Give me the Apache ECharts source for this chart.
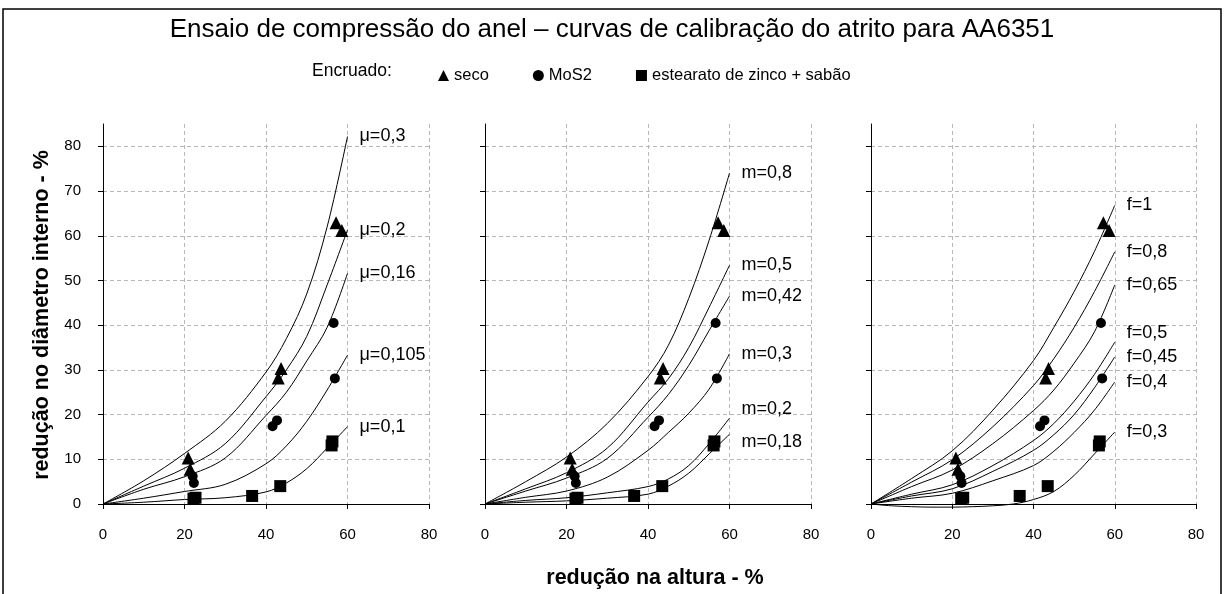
<!DOCTYPE html>
<html>
<head>
<meta charset="utf-8">
<script src="https://cdn.jsdelivr.net/npm/echarts@6/dist/echarts.min.js"></script>
<style>
  html, body { margin: 0; padding: 0; background: #fff; }
  #chart { width: 1224px; height: 594px; }
</style>
</head>
<body>
<div id="chart"></div>
<script>
// Abscissa (redução na altura, %) shared by the calibration curves
const xCurve = [0, 10, 20, 30, 40, 45, 50, 55, 60];

// Coulomb friction coefficient curves
const muNames = ['μ=0,3', 'μ=0,2', 'μ=0,16', 'μ=0,105', 'μ=0,1'];
const mu03  = [0, 5.2, 11.3, 18.5, 29.5, 37.0, 47.0, 62.0, 82.2];
const mu02  = [0, 4.0, 8.0, 13.5, 24.0, 30.0, 37.5, 49.0, 61.3];
const mu016 = [0, 3.3, 6.1, 10.3, 19.8, 25.0, 32.0, 39.5, 51.6];
const mu0105 = [0, 1.3, 2.8, 4.4, 9.0, 13.0, 18.5, 25.5, 33.3];
const mu01  = [0, 0.4, 1.0, 1.4, 2.7, 4.7, 7.9, 12.5, 17.3];

// Shear friction factor curves
const mNames = ['m=0,8', 'm=0,5', 'm=0,42', 'm=0,3', 'm=0,2', 'm=0,18'];
const m08  = [0, 5.0, 10.5, 18.0, 28.5, 35.5, 46.0, 59.0, 74.0];
const m05  = [0, 3.4, 7.0, 12.5, 22.8, 28.0, 35.0, 44.0, 53.4];
const m042 = [0, 2.9, 5.8, 10.2, 19.4, 24.5, 31.0, 38.8, 46.5];
const m03  = [0, 1.5, 2.9, 6.0, 12.0, 16.0, 20.3, 25.7, 33.6];
const m02  = [0, 0.8, 1.4, 2.5, 3.9, 5.6, 8.6, 13.5, 19.2];
const m018 = [0, 0.4, 0.7, 1.3, 2.2, 4.0, 6.9, 11.2, 15.6];

// Friction factor (f) curves
const fNames = ['f=1', 'f=0,8', 'f=0,65', 'f=0,5', 'f=0,45', 'f=0,4', 'f=0,3'];
const f1   = [0, 5.7, 11.9, 21.0, 32.1, 39.5, 47.5, 56.5, 66.8];
const f08  = [0, 4.9, 9.9, 17.3, 26.5, 32.5, 39.5, 47.5, 56.4];
const f065 = [0, 3.9, 7.6, 13.5, 20.9, 25.5, 31.5, 38.5, 49.0];
const f05  = [0, 2.2, 4.3, 8.6, 14.2, 18.0, 23.0, 29.0, 36.2];
const f045 = [0, 1.8, 3.4, 7.3, 12.0, 15.5, 20.0, 26.0, 32.9];
const f04  = [0, 1.3, 2.4, 5.2, 8.6, 11.8, 16.0, 21.0, 27.3];
const f03x = [0, 5, 10, 15, 20, 25, 30, 35, 40, 45, 50, 55, 60];
const f03  = [0, -0.4, -0.6, -0.7, -0.7, -0.6, -0.4, 0, 1.0, 2.8, 6.4, 11.2, 16.1];

// Measured points (redução na altura %, redução no diâmetro interno %)
const secoX = [20.9, 21.4, 43.0, 43.7, 57.2, 58.6];
const secoY = [10.3, 7.8, 28.2, 30.3, 62.9, 61.2];
const mos2X = [22.0, 22.3, 41.6, 42.7, 56.6, 56.9];
const mos2Y = [6.2, 4.7, 17.4, 18.7, 40.5, 28.1];
const estX  = [22.2, 22.7, 36.6, 43.5, 56.1, 56.3];
const estY  = [1.2, 1.4, 1.8, 4.0, 13.1, 14.0];

// Axis ticks
const xTicks = [0, 20, 40, 60, 80];
const yTicks = [0, 10, 20, 30, 40, 50, 60, 70, 80];

const FONT = 'Arial, "Liberation Sans", sans-serif';
const pair = (xs, ys) => xs.map((x, i) => [x, ys[i]]);
const MARK = { color: '#000', opacity: 1 };

const panels = [
  { left: 103, width: 326, names: muNames, curves: [mu03, mu02, mu016, mu0105, mu01], shifts: [0, 0, 0, 0, 0] },
  { left: 485, width: 326, names: mNames, curves: [m08, m05, m042, m03, m02, m018], shifts: [0, 0, 0, 0, -9, 8] },
  { left: 871, width: 325, names: fNames, curves: [f1, f08, f065, f05, f045, f04, f03], shifts: [0, 0, 0, -9, 0, 0, 0] }
];

const grid = [], xAxis = [], yAxis = [], series = [];

panels.forEach((p, gi) => {
  grid.push({ left: p.left, width: p.width, top: 124, height: 380 });
  xAxis.push({
    type: 'value', gridIndex: gi, min: 0, max: 80, interval: 20,
    axisLine: { show: true, lineStyle: { color: '#000', width: 1 } },
    axisTick: { show: true, length: 5, customValues: xTicks, lineStyle: { color: '#000' } },
    axisLabel: { color: '#000', fontSize: 15, fontFamily: FONT, margin: 23, customValues: xTicks },
    splitLine: { show: true, lineStyle: { color: '#b8b8b8', type: [4, 3], width: 1 } }
  });
  yAxis.push({
    type: 'value', gridIndex: gi, min: 0, max: 85, interval: 10,
    axisLine: { show: true, onZero: false, lineStyle: { color: '#000', width: 1 } },
    axisTick: { show: true, length: 5, customValues: yTicks, lineStyle: { color: '#000' } },
    axisLabel: { show: gi === 0, color: '#000', fontSize: 15, fontFamily: FONT, margin: 22, customValues: yTicks },
    splitLine: { show: true, lineStyle: { color: '#b8b8b8', type: [4, 3], width: 1 } }
  });

  p.curves.forEach((ys, ci) => {
    const xs = (ys === f03) ? f03x : xCurve;
    series.push({
      type: 'line', name: p.names[ci], xAxisIndex: gi, yAxisIndex: gi,
      data: pair(xs, ys), smooth: 0.35, symbol: 'none', clip: false, silent: true,
      lineStyle: { color: '#000', width: 1 },
      endLabel: {
        show: true, formatter: p.names[ci], color: '#000', fontSize: 18, fontFamily: FONT,
        distance: 12, offset: [0, p.shifts[ci]]
      },
      z: 2
    });
  });

  series.push(
    { type: 'scatter', name: 'seco', xAxisIndex: gi, yAxisIndex: gi, data: pair(secoX, secoY),
      symbol: 'triangle', symbolSize: 13, itemStyle: MARK, z: 3 },
    { type: 'scatter', name: 'MoS2', xAxisIndex: gi, yAxisIndex: gi, data: pair(mos2X, mos2Y),
      symbol: 'circle', symbolSize: 10, itemStyle: MARK, z: 3 },
    { type: 'scatter', name: 'estearato de zinco + sabão', xAxisIndex: gi, yAxisIndex: gi, data: pair(estX, estY),
      symbol: 'rect', symbolSize: 12, itemStyle: MARK, z: 3 }
  );
});

const chart = echarts.init(document.getElementById('chart'), null, { renderer: 'canvas' });
chart.setOption({
  backgroundColor: '#fff',
  animation: false,
  title: {
    text: 'Ensaio de compressão do anel – curvas de calibração do atrito para AA6351',
    left: 'center', top: 12,
    textStyle: { fontSize: 26, fontWeight: 'normal', color: '#000', fontFamily: FONT }
  },
  legend: {
    data: [
      { name: 'seco', icon: 'triangle' },
      { name: 'MoS2', icon: 'circle' },
      { name: 'estearato de zinco + sabão', icon: 'rect' }
    ],
    left: 433, top: 62, itemWidth: 11, itemHeight: 11, itemGap: 44,
    selectedMode: false,
    itemStyle: { color: '#000', opacity: 1 },
    textStyle: { fontSize: 16.5, color: '#000', fontFamily: FONT }
  },
  grid, xAxis, yAxis, series,
  graphic: [
    { type: 'rect', shape: { x: 3, y: 9, width: 1218, height: 620 },
      style: { fill: 'none', stroke: '#000', lineWidth: 1.5 }, silent: true },
    { type: 'text', x: 312, y: 71,
      style: { text: 'Encruado:', fontSize: 17.5, fill: '#000', fontFamily: FONT, verticalAlign: 'middle' } },
    { type: 'text', x: 42, y: 315, rotation: Math.PI / 2,
      style: { text: 'redução no diâmetro interno - %', fontSize: 21.5, fontWeight: 'bold', fill: '#000',
               fontFamily: FONT, align: 'center', verticalAlign: 'middle' } },
    { type: 'text', x: 655, y: 578,
      style: { text: 'redução na altura - %', fontSize: 21.5, fontWeight: 'bold', fill: '#000',
               fontFamily: FONT, align: 'center', verticalAlign: 'middle' } }
  ]
});
</script>
</body>
</html>
